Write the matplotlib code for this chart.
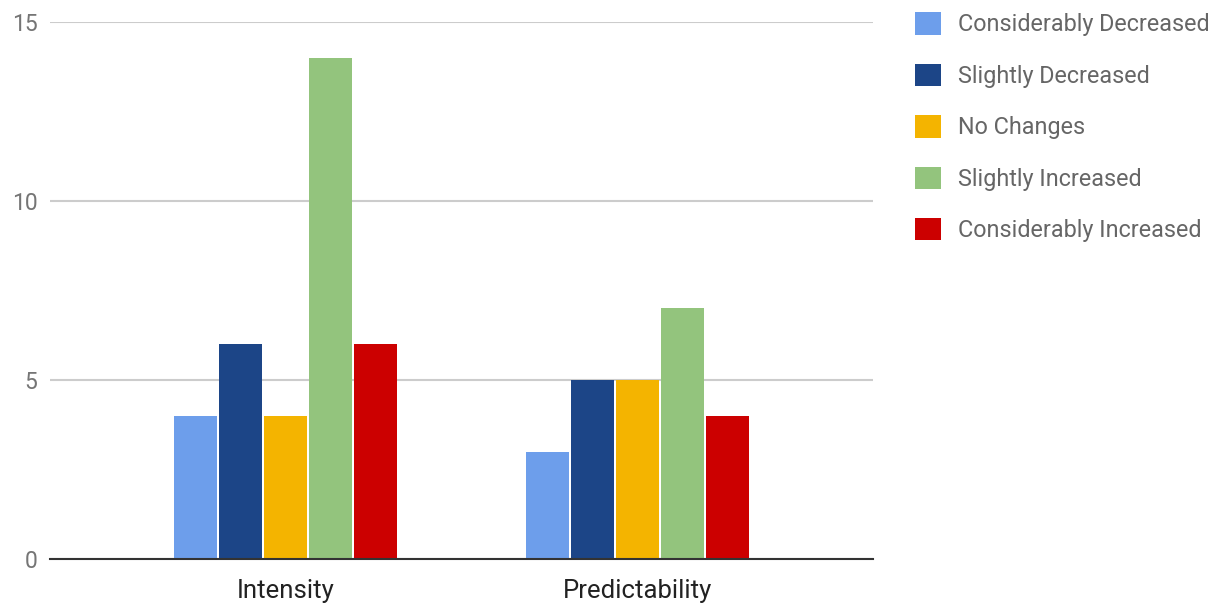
import matplotlib.pyplot as plt
import numpy as np

plt.rcParams["font.family"] = ["Roboto", "DejaVu Sans"]

categories = ["Intensity", "Predictability"]
series = ["Considerably Decreased", "Slightly Decreased", "No Changes",
          "Slightly Increased", "Considerably Increased"]
counts = {
    "Considerably Decreased": [4, 3],
    "Slightly Decreased": [6, 5],
    "No Changes": [4, 5],
    "Slightly Increased": [14, 7],
    "Considerably Increased": [6, 4],
}
colors = ["#6d9eeb", "#1c4587", "#f4b400", "#93c47d", "#cc0000"]

fig = plt.figure(figsize=(12.21, 6.03), dpi=100)
ax = fig.add_axes([50 / 1221, 44 / 603, 823 / 1221, 537 / 603])

x = np.arange(len(categories))
slot = 45 / 352   # slot per bar in category units
width = 43 / 352
for i, name in enumerate(series):
    ax.bar(x + (i - 2) * slot, counts[name], width, color=colors[i],
           label=name, zorder=3)

ax.set_xlim(-0.669, 1.669)
ax.set_ylim(0, 15)
ax.set_yticks([0, 5, 10, 15])
ax.set_xticks(x)
ax.set_xticklabels(categories)
ax.yaxis.grid(True, color="#cccccc", linewidth=1.5, zorder=0)
ax.set_axisbelow(True)

for s in ["top", "right", "left"]:
    ax.spines[s].set_visible(False)
ax.spines["bottom"].set_color("#333333")
ax.spines["bottom"].set_linewidth(1.5)
ax.spines["bottom"].set_zorder(4)

ax.tick_params(axis="y", length=0, pad=9, labelsize=16.5, labelcolor="#757575")
ax.tick_params(axis="x", length=0, pad=14.5, labelsize=18.5, labelcolor="#222222")

leg = ax.legend(loc="upper left", bbox_to_anchor=(906 / 1221, 1 - 3 / 603),
                bbox_transform=fig.transFigure, frameon=False,
                fontsize=16.8, handlelength=1.1, handleheight=1.1,
                handletextpad=0.75, labelspacing=1.17, borderaxespad=0)
for t in leg.get_texts():
    t.set_color("#666666")

plt.savefig("out.png", dpi=100)
